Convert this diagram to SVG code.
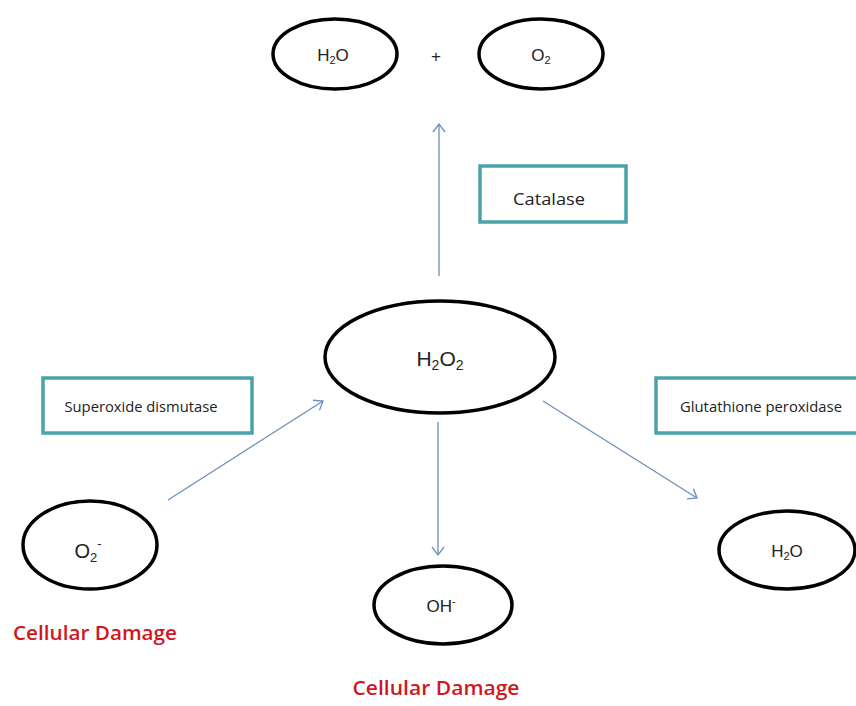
<svg xmlns="http://www.w3.org/2000/svg" width="856" height="706" viewBox="0 0 856 706">
<defs>
<marker id="arr" markerWidth="14" markerHeight="14" refX="10" refY="7" orient="auto" markerUnits="userSpaceOnUse">
<path d="M2,1 L10,7 L2,13" fill="none" stroke="#6f8fb8" stroke-width="1.3"/>
</marker>
</defs>
<style>
.node{fill:#fff;stroke:#000;stroke-width:3.5}
.box{fill:#fff;stroke:#4aa3ab;stroke-width:3.5}
.t{font-family:"Liberation Sans",Arial,sans-serif;fill:#222;text-anchor:middle}
.lbl{font-family:"Open Sans","Liberation Sans",sans-serif;fill:#222;text-anchor:middle}
.red{font-family:"Open Sans","Liberation Sans",sans-serif;fill:#d0161e;font-weight:600;text-anchor:middle}
.conn{stroke:#6f8fb8;stroke-width:1.3;fill:none}
</style>
<rect width="856" height="706" fill="#fff"/>
<g id="connectors">
<line class="conn" x1="439" y1="276" x2="439" y2="124" marker-end="url(#arr)"/>
<line class="conn" x1="168" y1="500" x2="323" y2="401" marker-end="url(#arr)"/>
<line class="conn" x1="543" y1="401" x2="697" y2="498" marker-end="url(#arr)"/>
<line class="conn" x1="438" y1="422" x2="438" y2="555" marker-end="url(#arr)"/>
</g>
<g id="h2o-top">
<ellipse class="node" cx="335" cy="54" rx="62" ry="35"/>
<text class="t" x="333" y="61" font-size="17">H<tspan font-size="11" dy="3">2</tspan><tspan dy="-3">O</tspan></text>
</g>
<g id="plus">
<text class="t" x="436" y="62" font-size="17">+</text>
</g>
<g id="o2-top">
<ellipse class="node" cx="541" cy="54" rx="62" ry="35"/>
<text class="t" x="541" y="61" font-size="17">O<tspan font-size="11" dy="3">2</tspan></text>
</g>
<g id="catalase">
<rect class="box" x="480" y="166" width="146" height="56"/>
<text class="lbl" x="549" y="205" font-size="17" textLength="72" lengthAdjust="spacingAndGlyphs">Catalase</text>
</g>
<g id="h2o2">
<ellipse class="node" cx="440" cy="357" rx="115" ry="56"/>
<text class="t" x="440" y="366" font-size="21">H<tspan font-size="14" dy="4">2</tspan><tspan dy="-4">O</tspan><tspan font-size="14" dy="4">2</tspan></text>
</g>
<g id="sod">
<rect class="box" x="43" y="378" width="209" height="55"/>
<text class="lbl" x="141" y="412" font-size="14" textLength="153" lengthAdjust="spacingAndGlyphs">Superoxide dismutase</text>
</g>
<g id="gpx">
<rect class="box" x="656" y="378" width="204" height="55"/>
<text class="lbl" x="761" y="412" font-size="14" textLength="162" lengthAdjust="spacingAndGlyphs">Glutathione peroxidase</text>
</g>
<g id="superoxide">
<ellipse class="node" cx="90" cy="545" rx="67" ry="44"/>
<text class="t" x="88" y="558" font-size="20">O<tspan font-size="13" dy="4">2</tspan><tspan font-size="13" dy="-14">-</tspan></text>
</g>
<g id="h2o-right">
<ellipse class="node" cx="787" cy="550" rx="68" ry="39"/>
<text class="t" x="787" y="557" font-size="17">H<tspan font-size="11" dy="3">2</tspan><tspan dy="-3">O</tspan></text>
</g>
<g id="oh">
<ellipse class="node" cx="443" cy="605" rx="69" ry="39"/>
<text class="t" x="441" y="612" font-size="17">OH<tspan font-size="11" dy="-7">-</tspan></text>
</g>
<g id="damage-left">
<text class="red" x="95" y="640" font-size="20" textLength="164" lengthAdjust="spacingAndGlyphs">Cellular Damage</text>
</g>
<g id="damage-bottom">
<text class="red" x="436" y="695" font-size="20" textLength="167" lengthAdjust="spacingAndGlyphs">Cellular Damage</text>
</g>
</svg>
